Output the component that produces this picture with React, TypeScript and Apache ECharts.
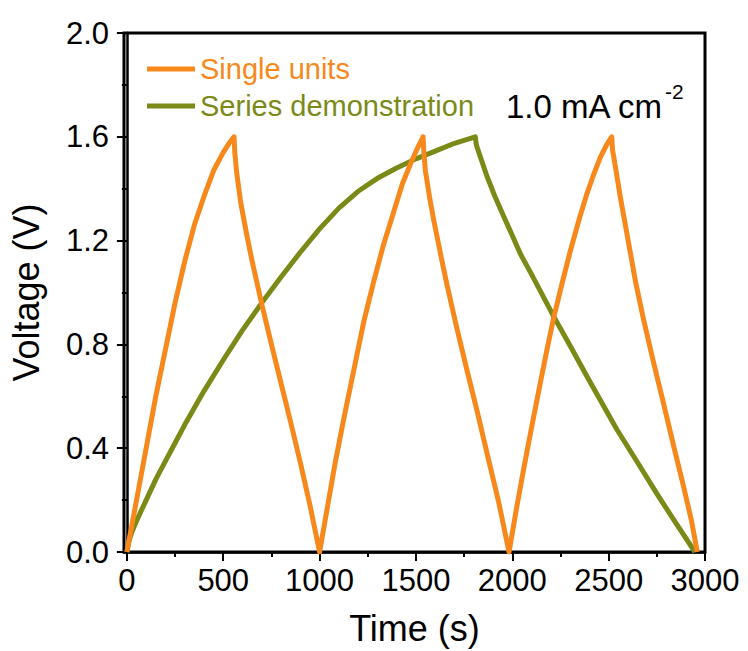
import React, { useEffect, useRef } from "react";
import * as echarts from "echarts";

// Single units (three charge / discharge cycles): time (s), voltage (V)
const singleTime = [
  0, 50, 100, 150, 200, 250, 300, 350, 400, 450, 500, 530, 556,
  560, 570, 591, 620, 650, 700, 750, 800, 850, 900, 950, 1000,
  1040, 1080, 1130, 1180, 1230, 1280, 1330, 1380, 1430, 1480, 1510, 1537,
  1541, 1549, 1570, 1592, 1630, 1661, 1710, 1765, 1820, 1869, 1930, 1983,
  2020, 2059, 2100, 2145, 2180, 2214, 2260, 2301, 2350, 2387, 2420, 2456, 2490, 2516,
  2520, 2534, 2560, 2594, 2640, 2680, 2730, 2784, 2840, 2888, 2930, 2960,
];
const singleVolt = [
  0, 0.2, 0.4, 0.6, 0.78, 0.96, 1.12, 1.26, 1.37, 1.47, 1.54, 1.575, 1.6,
  1.54, 1.46, 1.345, 1.23, 1.12, 0.955, 0.8, 0.65, 0.5, 0.345, 0.18, 0,
  0.17, 0.34, 0.53, 0.71, 0.89, 1.04, 1.18, 1.3, 1.42, 1.51, 1.56, 1.6,
  1.54, 1.47, 1.37, 1.28, 1.14, 1.03, 0.87, 0.7, 0.535, 0.38, 0.19, 0,
  0.16, 0.32, 0.48, 0.65, 0.78, 0.9, 1.04, 1.16, 1.29, 1.38, 1.45, 1.52, 1.57, 1.6,
  1.55, 1.49, 1.37, 1.23, 1.04, 0.9, 0.74, 0.575, 0.4, 0.255, 0.12, 0,
];

// Series demonstration (one cycle): time (s), voltage (V)
const seriesTime = [
  0, 10, 25, 50, 100, 150, 200, 250, 300, 400, 500, 600, 700, 800, 900, 1000, 1100, 1200, 1300, 1400, 1500, 1600, 1700, 1808,
  1812, 1817, 1840, 1869, 1910, 1955, 2000, 2041, 2100, 2214, 2300, 2400, 2542, 2650, 2750, 2850, 2948,
];
const seriesVolt = [
  0, 0.04, 0.075, 0.12, 0.2, 0.28, 0.35, 0.42, 0.49, 0.62, 0.74, 0.855, 0.96, 1.06, 1.155, 1.245, 1.325, 1.39, 1.44, 1.48, 1.515, 1.545, 1.575, 1.6,
  1.575, 1.56, 1.51, 1.447, 1.37, 1.294, 1.22, 1.15, 1.07, 0.909, 0.795, 0.66, 0.473, 0.345, 0.225, 0.11, 0,
];

const xMajorTicks = [0, 500, 1000, 1500, 2000, 2500, 3000];
const xMinorTicks = [250, 750, 1250, 1750, 2250, 2750];

const seriesNames = ["Single units", "Series demonstration"];
const ORANGE = "#F7881C";
const OLIVE = "#7B8A17";
const FONT = "Liberation Sans, Arial, sans-serif";

export default function App() {
  const ref = useRef<HTMLDivElement>(null);
  useEffect(() => {
    if (!ref.current) return;
    const chart = echarts.init(ref.current, null, { renderer: "svg" });
    const single = singleTime.map((t, i) => [t, singleVolt[i]]);
    const series = seriesTime.map((t, i) => [t, seriesVolt[i]]);
    chart.setOption({
      animation: false,
      backgroundColor: "#fff",
      grid: {
        left: 123, right: 43, top: 33, bottom: 98,
        show: true, borderColor: "#000", borderWidth: 3, backgroundColor: "transparent",
      },
      legend: {
        show: true,
        left: 147, top: 51, orient: "vertical",
        padding: 0, itemGap: 1,
        icon: "rect", itemWidth: 48, itemHeight: 5,
        textStyle: { fontFamily: FONT, fontSize: 29, lineHeight: 36 },
        data: [
          { name: seriesNames[0], textStyle: { color: ORANGE } },
          { name: seriesNames[1], textStyle: { color: OLIVE } },
        ],
      },
      xAxis: [
        {
          type: "value", min: -15, max: 3000,
          name: "Time (s)", nameLocation: "middle", nameGap: 58,
          nameTextStyle: { fontFamily: FONT, fontSize: 36, color: "#000" },
          axisLine: { show: true, lineStyle: { color: "#000", width: 2.5 } },
          axisTick: { show: true, customValues: xMajorTicks, length: 9, lineStyle: { color: "#000", width: 2 } },
          axisLabel: {
            customValues: xMajorTicks, fontFamily: FONT, fontSize: 31, color: "#000", margin: 13,
            formatter: (v: number) => String(v),
          },
          splitLine: { show: false },
        },
        {
          type: "value", min: -15, max: 3000, position: "bottom",
          axisLine: { show: false },
          axisTick: { show: true, customValues: xMinorTicks, length: 5, lineStyle: { color: "#000", width: 2 } },
          axisLabel: { show: false, customValues: xMinorTicks },
          splitLine: { show: false },
        },
      ],
      yAxis: {
        type: "value", min: 0, max: 2, interval: 0.4,
        name: "Voltage (V)", nameLocation: "middle", nameGap: 80,
        nameTextStyle: { fontFamily: FONT, fontSize: 36, color: "#000" },
        axisLine: { show: true, lineStyle: { color: "#000", width: 2.5 } },
        axisTick: { show: true, length: 10, lineStyle: { color: "#000", width: 2 } },
        minorTick: { show: true, splitNumber: 2, length: 5, lineStyle: { color: "#000", width: 2 } },
        axisLabel: { fontFamily: FONT, fontSize: 31, color: "#000", margin: 15, formatter: (v: number) => v.toFixed(1) },
        splitLine: { show: false },
      },
      graphic: [
        {
          type: "text", left: 506, top: 90,
          style: { text: "1.0 mA cm", fontFamily: FONT, fontSize: 33, fill: "#000" },
        },
        {
          type: "text", left: 665, top: 81,
          style: { text: "-2", fontFamily: FONT, fontSize: 21, fill: "#000" },
        },
      ],
      series: [
        {
          name: seriesNames[0], type: "line", data: single, symbol: "none",
          color: ORANGE, lineStyle: { color: ORANGE, width: 5, join: "round" }, z: 3,
        },
        {
          name: seriesNames[1], type: "line", data: series, symbol: "none",
          color: OLIVE, lineStyle: { color: OLIVE, width: 5, join: "round" }, z: 2,
        },
      ],
    });
    return () => chart.dispose();
  }, []);
  return <div ref={ref} style={{ width: 748, height: 651, position: "absolute", left: 0, top: 0 }} />;
}
